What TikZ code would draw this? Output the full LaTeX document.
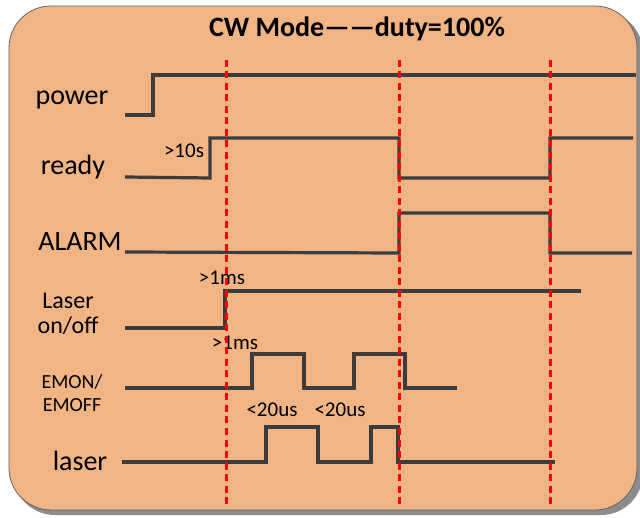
\documentclass[tikz,border=0pt]{standalone}
\usepackage{fontspec}
\setmainfont{Carlito}
\begin{document}
\begin{tikzpicture}[x=1pt,y=-1pt,
  sig/.style={draw=sigcol,line width=3.2pt,line join=miter},
  guide/.style={draw=red,line width=3pt,dash pattern=on 7pt off 4.5pt},
  lab/.style={inner sep=0pt,font=\fontsize{28}{30}\selectfont},
  slab/.style={inner sep=0pt,font=\fontsize{24}{25}\selectfont,align=center},
  tlab/.style={inner sep=0pt,font=\fontsize{20}{23}\selectfont,align=center},
  note/.style={inner sep=0pt,font=\fontsize{21}{22}\selectfont}]
\definecolor{sigcol}{RGB}{60,60,60}
\definecolor{bgfill}{RGB}{241,180,132}
\definecolor{shadowcol}{RGB}{140,140,140}
\useasboundingbox (0,0) rectangle (640,518);
% shadow and background
\fill[shadowcol,rounded corners=42pt] (13,11) rectangle (643,515);
\filldraw[fill=bgfill,draw=sigcol!80,line width=0.8pt,rounded corners=42pt] (9,6) rectangle (637,510);
% title
\node[inner sep=0pt,font=\bfseries\fontsize{28}{30}\selectfont] (title) at (357,29) {CW Mode——duty=100\%};
% labels
\node[lab] (lpower) at (72,100) {power};
\node[lab] (lready) at (73,167) {ready};
\node[lab] (lalarm) at (80,242) {ALARM};
\node[slab] (llaser) at (68,314) {Laser\\on/off};
\node[tlab] (lemon) at (72,393) {EMON/\\EMOFF};
\node[lab] (llas) at (80,461) {laser};
% notes
\node[note] (n10s) at (184,151) {>10s};
\node[note] (n1ms) at (222,278) {>1ms};
\node[note] (n1msb) at (235,343) {>1ms};
\node[note] (n20a) at (272,410) {<20us};
\node[note] (n20b) at (340,410) {<20us};
% signals
\draw[sig] (125,115) -- (153,115) -- (153,75) -- (636,75);
\draw[sig] (125,177) -- (210,178) -- (210,138) -- (399,138) -- (399,178) -- (550,178) -- (550,138) -- (633,138);
\draw[sig] (125,252) -- (399,253) -- (399,213) -- (550,213) -- (550,253) -- (632,253);
\draw[sig] (125,328) -- (225,328) -- (225,291) -- (581,291);
\draw[sig] (125,388) -- (252,388) -- (252,354) -- (304,354) -- (304,388) -- (354,388) -- (354,354) -- (405,354) -- (405,388) -- (457,388);
\draw[sig] (122,462) -- (266,462) -- (266,427) -- (318,427) -- (318,462) -- (371,462) -- (371,427) -- (398,427) -- (398,462) -- (555,462);
% guides
\draw[guide] (226,60) -- (226,507);
\draw[guide] (399,60) -- (399,507);
\draw[guide] (550,60) -- (550,507);
\end{tikzpicture}
\end{document}
